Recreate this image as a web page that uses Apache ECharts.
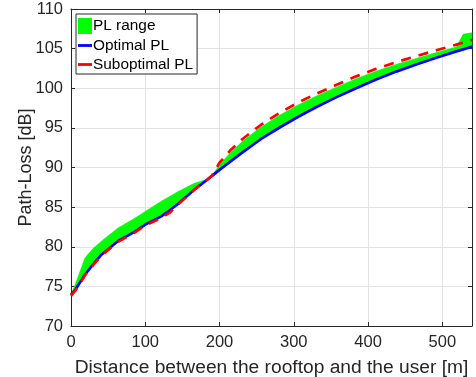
<!DOCTYPE html>
<html>
<head>
<meta charset="utf-8">
<script src="https://cdn.jsdelivr.net/npm/echarts@6/dist/echarts.min.js"></script>
<style>
  html, body { margin: 0; padding: 0; background: #fff; }
  #chart { width: 476px; height: 377px; }
</style>
</head>
<body>
<div id="chart"></div>
<script>
// Distance between the rooftop and the user [m]
const distance = [0, 6, 19, 30, 41, 63, 86, 100, 121, 133, 144, 166, 180, 190, 200, 214, 231, 256, 281, 306, 330, 357, 384, 411, 438, 465, 492, 519, 528, 540];
// Optimal PL [dB]
const optimalPL = [73.95, 74.6, 76.5, 77.8, 79.0, 80.7, 81.9, 82.8, 83.8, 84.6, 85.4, 87.2, 88.2, 88.95, 89.7, 90.7, 91.9, 93.6, 95.05, 96.4, 97.6, 98.85, 100.0, 101.1, 102.1, 103.0, 103.85, 104.65, 104.9, 105.25];
// Suboptimal PL [dB]
const suboptimalPL = [73.8, 74.5, 76.4, 77.7, 78.9, 80.6, 81.8, 82.7, 83.6, 84.3, 85.3, 87.2, 88.2, 89.0, 90.6, 92.1, 93.6, 95.4, 96.9, 98.2, 99.3, 100.4, 101.5, 102.45, 103.3, 104.05, 104.8, 105.5, 105.75, 106.1];
// PL range (lower / upper edges) [dB]
const plRangeLower = optimalPL;
const plRangeUpper = [73.95, 75.3, 78.6, 79.8, 80.7, 82.35, 83.6, 84.45, 85.7, 86.35, 86.95, 88.0, 88.4, 89.0, 90.3, 91.8, 93.3, 95.1, 96.6, 97.9, 99.0, 100.1, 101.2, 102.15, 103.0, 103.75, 104.5, 105.2, 106.8, 107.0];
// Axis ticks
const xTicks = { min: 0, max: 540, interval: 100 };
const yTicks = { min: 70, max: 110, interval: 5 };

const FONT = 'Liberation Sans, Arial, Helvetica, sans-serif';
const TXT = '#262626';

const pair = (xs, ys) => xs.map((x, i) => [x, ys[i]]);
const bandData = distance.map((x, i) => [x, plRangeLower[i], plRangeUpper[i]]);

function renderBand(params, api) {
  if (params.dataIndex !== 0) return null;
  const n = bandData.length;
  const pts = [];
  for (let i = 0; i < n; i++) pts.push(api.coord([bandData[i][0], bandData[i][2]]));
  for (let i = n - 1; i >= 0; i--) pts.push(api.coord([bandData[i][0], bandData[i][1]]));
  return {
    type: 'polygon',
    shape: { points: pts },
    style: { fill: '#00ff00', stroke: '#00f000', lineWidth: 0.6 }
  };
}

const chart = echarts.init(document.getElementById('chart'), null, { renderer: 'canvas' });
chart.setOption({
  animation: false,
  backgroundColor: '#fff',
  textStyle: { fontFamily: FONT },
  grid: { left: 71, top: 9, right: 4, bottom: 51, containLabel: false, outerBoundsMode: 'none' },
  legend: {
    left: 76, top: 14, orient: 'vertical',
    backgroundColor: '#fff', borderColor: TXT, borderWidth: 1,
    padding: [4, 4, 2, 2], itemGap: 4, itemWidth: 14, itemHeight: 16,
    textStyle: { fontFamily: FONT, fontSize: 15.4, color: '#000', padding: [0, 0, 0, -4] },
    data: [
      { name: 'PL range', icon: 'rect', itemStyle: { color: '#00ff00' } },
      { name: 'Optimal PL', icon: 'path://M0,0 L13,0 L13,2.6 L0,2.6 Z' },
      { name: 'Suboptimal PL', icon: 'path://M0,0 L13,0 L13,2.6 L0,2.6 Z' }
    ]
  },
  xAxis: [
    {
      type: 'value', position: 'bottom', min: xTicks.min, max: xTicks.max, interval: xTicks.interval,
      name: 'Distance between the rooftop and the user [m]', nameLocation: 'middle', nameGap: 32,
      nameMoveOverlap: false,
      nameTextStyle: { fontFamily: FONT, fontSize: 19.2, color: TXT },
      axisLine: { lineStyle: { color: TXT, width: 1 } },
      axisTick: { inside: true, length: 4, lineStyle: { color: TXT } },
      axisLabel: { margin: 8, fontFamily: FONT, fontSize: 16.5, color: TXT, showMaxLabel: false },
      splitLine: { show: true, lineStyle: { color: '#e3e3e3', width: 1 } }
    },
    {
      type: 'value', position: 'top', min: xTicks.min, max: xTicks.max, interval: xTicks.interval,
      axisLine: { show: true, onZero: false, lineStyle: { color: TXT, width: 1 } },
      axisTick: { show: true, inside: true, length: 4, lineStyle: { color: TXT } },
      axisLabel: { show: false }, splitLine: { show: false }
    }
  ],
  yAxis: [
    {
      type: 'value', position: 'left', min: yTicks.min, max: yTicks.max, interval: yTicks.interval,
      name: 'Path-Loss [dB]', nameLocation: 'middle', nameGap: 36,
      nameMoveOverlap: false,
      nameTextStyle: { fontFamily: FONT, fontSize: 18, color: TXT },
      axisLine: { show: true, lineStyle: { color: TXT, width: 1 } },
      axisTick: { show: true, inside: true, length: 4, lineStyle: { color: TXT } },
      axisLabel: { margin: 8, fontFamily: FONT, fontSize: 16.5, color: TXT },
      splitLine: { show: true, lineStyle: { color: '#e3e3e3', width: 1 } }
    },
    {
      type: 'value', position: 'right', min: yTicks.min, max: yTicks.max, interval: yTicks.interval,
      axisLine: { show: true, onZero: false, lineStyle: { color: TXT, width: 1 } },
      axisTick: { show: true, inside: true, length: 4, lineStyle: { color: TXT } },
      axisLabel: { show: false }, splitLine: { show: false }
    }
  ],
  series: [
    {
      name: 'PL range', type: 'custom', data: bandData,
      encode: { x: 0, y: [1, 2] }, renderItem: renderBand, silent: true,
      itemStyle: { color: '#00ff00' }, z: 2
    },
    {
      name: 'Optimal PL', type: 'line', data: pair(distance, optimalPL),
      showSymbol: false, symbol: 'none', silent: true,
      itemStyle: { color: '#0000ff' },
      lineStyle: { color: '#0000ff', width: 2.7 }, z: 3
    },
    {
      name: 'Suboptimal PL', type: 'line', data: pair(distance, suboptimalPL),
      showSymbol: false, symbol: 'none', silent: true,
      itemStyle: { color: '#ff0000' },
      lineStyle: { color: '#ff0000', width: 2.7, type: [10, 8] }, z: 4
    }
  ]
});
</script>
</body>
</html>
